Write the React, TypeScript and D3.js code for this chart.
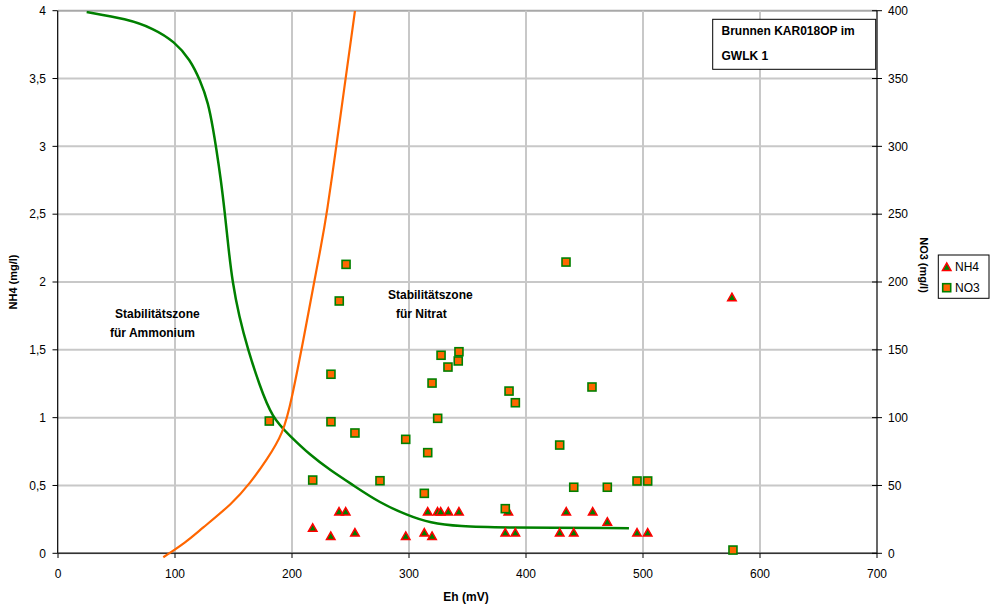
import React from "react";
import * as d3 from "d3";

// Scatter data: Eh (mV) vs concentration
const nh4Eh = [217.7, 233.1, 240.2, 245.9, 253.8, 297.2, 313.1, 316.0, 319.7, 324.4, 327.1, 333.6, 342.7, 382.3, 384.9, 390.9, 428.8, 434.4, 440.8, 457.0, 469.5, 494.9, 504.0, 576.0];
const nh4Val = [0.19, 0.13, 0.31, 0.31, 0.155, 0.13, 0.155, 0.31, 0.13, 0.31, 0.31, 0.31, 0.31, 0.155, 0.31, 0.155, 0.155, 0.31, 0.155, 0.31, 0.235, 0.155, 0.155, 1.89];

const no3Eh = [180.6, 217.7, 233.3, 233.3, 240.4, 246.2, 253.8, 275.2, 297.2, 316.0, 313.1, 319.7, 324.5, 327.4, 333.3, 342.1, 342.7, 382.3, 385.5, 390.9, 428.8, 434.2, 440.8, 456.4, 469.5, 494.9, 504.0, 576.9];
const no3Val = [97.5, 54, 97, 132, 186, 213, 88.7, 53.5, 84, 74.2, 44.2, 125.5, 99.5, 146, 137.3, 141.8, 148.6, 32.9, 119.6, 111, 79.8, 214.7, 48.7, 122.6, 48.7, 53.3, 53.3, 2.4];

// Stability boundary curves
const ammEh = [24.5, 58.7, 81.5, 100, 112.8, 121.4, 128.5, 132.7, 135.0, 139.3, 142.7, 145.7, 149.1, 154.7, 162.4, 171.8, 182.9, 198.3, 215.4, 232.5, 252.1, 275.2, 298.3, 317.9, 343.6, 377.8, 488.0];
const ammVal = [3.99, 3.94, 3.87, 3.77, 3.64, 3.49, 3.32, 3.12, 3.0, 2.75, 2.5, 2.25, 2.0, 1.75, 1.5, 1.25, 1.0, 0.865, 0.725, 0.614, 0.503, 0.371, 0.282, 0.223, 0.198, 0.189, 0.185];

const nitEh = [90.0, 110.0, 121.4, 149.6, 164.1, 178.4, 192.6, 199.7, 210.9, 218.8, 224.2, 229.9, 238.0, 243.3, 253.8];
const nitVal = [-2.9, 8.6, 17.2, 37.1, 51.6, 68.8, 88.5, 113.1, 162.4, 199.3, 223.6, 250.9, 301.0, 334.2, 399.8];

const xTicks = [0, 100, 200, 300, 400, 500, 600, 700];
const yLeftTicks = [0, 0.5, 1, 1.5, 2, 2.5, 3, 3.5, 4];
const yRightTicks = [0, 50, 100, 150, 200, 250, 300, 350, 400];

const titleLines = ["Brunnen KAR018OP im", "GWLK 1"];
const xTitle = "Eh (mV)";
const yLeftTitle = "NH4 (mg/l)";
const yRightTitle = "NO3 (mg/l)";
const legendLabels = ["NH4", "NO3"];

const FONT = "'Liberation Sans', Arial, Helvetica, sans-serif";
const fmt = (v: number) => String(v).replace(".", ",");

const triPath = (w: number, h: number) => `M0,${-h / 2}L${w / 2},${h / 2}L${-w / 2},${h / 2}Z`;

export default function App() {
  const W = 993, H = 609;
  const x = d3.scaleLinear().domain([0, 700]).range([58, 877]);
  const yL = d3.scaleLinear().domain([0, 4]).range([553.3, 10.7]);
  const yR = d3.scaleLinear().domain([0, 400]).range([553.3, 10.7]);

  const lineAmm = d3.line<number>().x((_, i) => x(ammEh[i])).y((d) => yL(d)).curve(d3.curveBasis);
  const lineNit = d3.line<number>().x((_, i) => x(nitEh[i])).y((d) => yR(d)).curve(d3.curveBasis);

  const tri = triPath(8.5, 7.5);
  const sq = 8;

  return (
    <svg width={W} height={H} style={{ position: "absolute", left: 0, top: 0, background: "#fff" }} fontFamily={FONT}>
      <defs>
        <clipPath id="plotClip">
          <rect x={40} y={10.7} width={837} height={560} />
        </clipPath>
      </defs>
      {/* gridlines */}
      {yLeftTicks.map((t) => (
        <line key={"gh" + t} x1={58} x2={877} y1={yL(t)} y2={yL(t)} stroke={t === 4 ? "#a8a8a8" : "#c8c8c8"} strokeWidth={2} />
      ))}
      {xTicks.filter((t) => t > 0 && t < 700).map((t) => (
        <line key={"gv" + t} x1={x(t)} x2={x(t)} y1={10.7} y2={553.3} stroke="#c8c8c8" strokeWidth={2} />
      ))}

      {/* axes */}
      <line x1={57.7} x2={57.7} y1={10.7} y2={553.3} stroke="#000" strokeWidth={1.2} />
      <line x1={877} x2={877} y1={10.7} y2={553.3} stroke="#000" strokeWidth={1.2} />
      <line x1={57.7} x2={877} y1={553.3} y2={553.3} stroke="#333" strokeWidth={1.5} />
      {yLeftTicks.map((t) => (
        <g key={"yl" + t}>
          <line x1={52.5} x2={57.7} y1={yL(t)} y2={yL(t)} stroke="#000" strokeWidth={1} />
          <text x={46} y={yL(t)} dy="0.35em" textAnchor="end" fontSize={12} fill="#000">{fmt(t)}</text>
        </g>
      ))}
      {yRightTicks.map((t) => (
        <g key={"yr" + t}>
          <line x1={872} x2={882} y1={yR(t)} y2={yR(t)} stroke="#000" strokeWidth={1} />
          <text x={888} y={yR(t)} dy="0.35em" textAnchor="start" fontSize={12} fill="#000">{t}</text>
        </g>
      ))}
      {xTicks.map((t) => (
        <g key={"xt" + t}>
          <line x1={x(t)} x2={x(t)} y1={553.3} y2={558} stroke="#000" strokeWidth={1} />
          <text x={x(t)} y={578} textAnchor="middle" fontSize={12} fill="#000">{t}</text>
        </g>
      ))}

      {/* axis titles */}
      <text x={466} y={601} textAnchor="middle" fontSize={12} fontWeight="bold">{xTitle}</text>
      <text transform={`translate(17,${282}) rotate(-90)`} textAnchor="middle" fontSize={11} fontWeight="bold">{yLeftTitle}</text>
      <text transform={`translate(920,${265}) rotate(90)`} textAnchor="middle" fontSize={11} fontWeight="bold">{yRightTitle}</text>

      {/* curves */}
      <g clipPath="url(#plotClip)">
        <path d={lineAmm(ammVal) || ""} fill="none" stroke="#008000" strokeWidth={2.5} />
        <path d={lineNit(nitVal) || ""} fill="none" stroke="#ff6600" strokeWidth={2.2} />
      </g>

      {/* annotations */}
      <text x={115} y={318} fontSize={12} fontWeight="bold">Stabilitätszone</text>
      <text x={110} y={337} fontSize={12} fontWeight="bold">für Ammonium</text>
      <text x={388} y={299} fontSize={12} fontWeight="bold">Stabilitätszone</text>
      <text x={396} y={318} fontSize={12} fontWeight="bold">für Nitrat</text>

      {/* NH4 markers */}
      {nh4Val.map((v, i) => (
        <path key={"n" + i} d={tri} transform={`translate(${x(nh4Eh[i])},${yL(v)})`} fill="#008000" stroke="#ff0000" strokeWidth={1.5} strokeLinejoin="miter" />
      ))}
      {/* NO3 markers */}
      {no3Val.map((v, i) => (
        <rect key={"o" + i} x={x(no3Eh[i]) - sq / 2} y={yR(v) - sq / 2} width={sq} height={sq} fill="#ff6600" stroke="#008000" strokeWidth={1.6} />
      ))}

      {/* title box */}
      <rect x={712.7} y={19.3} width={163} height={50} fill="#fff" stroke="#000" strokeWidth={1} />
      <text x={721.5} y={35} fontSize={12} fontWeight="bold">{titleLines[0]}</text>
      <text x={721.5} y={60} fontSize={12} fontWeight="bold">{titleLines[1]}</text>

      {/* legend */}
      <rect x={938.3} y={255} width={50.7} height={43.3} fill="#fff" stroke="#000" strokeWidth={1} />
      <path d={tri} transform="translate(946.7,266.7)" fill="#008000" stroke="#ff0000" strokeWidth={1.5} />
      <text x={955} y={271} fontSize={12}>{legendLabels[0]}</text>
      <rect x={946.7 - sq / 2} y={287.7 - sq / 2} width={sq} height={sq} fill="#ff6600" stroke="#008000" strokeWidth={1.6} />
      <text x={955} y={292} fontSize={12}>{legendLabels[1]}</text>
    </svg>
  );
}
